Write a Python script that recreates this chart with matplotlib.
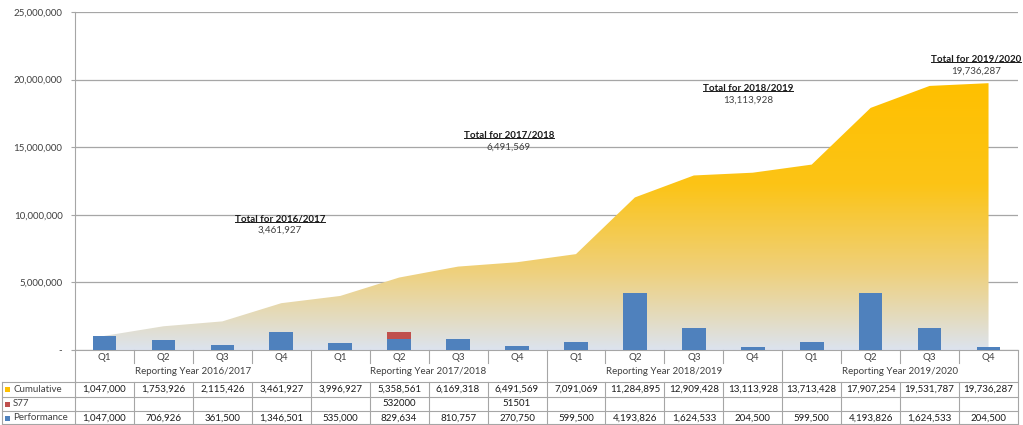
import numpy as np
import matplotlib
matplotlib.use('Agg')
import matplotlib.pyplot as plt
from matplotlib.colors import LinearSegmentedColormap
from matplotlib.patches import Polygon, Rectangle
from matplotlib.lines import Line2D
from matplotlib.transforms import blended_transform_factory
from matplotlib.ticker import FuncFormatter

plt.rcParams['font.family'] = ['Lato', 'DejaVu Sans']

quarters = ['Q1', 'Q2', 'Q3', 'Q4'] * 4
years = ['Reporting Year 2016/2017', 'Reporting Year 2017/2018',
         'Reporting Year 2018/2019', 'Reporting Year 2019/2020']
cumulative = [1047000, 1753926, 2115426, 3461927, 3996927, 5358561, 6169318, 6491569,
              7091069, 11284895, 12909428, 13113928, 13713428, 17907254, 19531787, 19736287]
s77 = [0, 0, 0, 0, 0, 532000, 0, 51501, 0, 0, 0, 0, 0, 0, 0, 0]
s77_text = ['', '', '', '', '', '532000', '', '51501', '', '', '', '', '', '', '', '']
performance = [1047000, 706926, 361500, 1346501, 535000, 829634, 810757, 270750,
               599500, 4193826, 1624533, 204500, 599500, 4193826, 1624533, 204500]
totals = ['Total for 2016/2017', 'Total for 2017/2018', 'Total for 2018/2019', 'Total for 2019/2020']
total_vals = [3461927, 6491569, 13113928, 19736287]
total_pos = [(2.98, 9.72e6), (6.86, 15.9e6), (10.92, 19.38e6), (14.79, 21.5e6)]

blue = '#4F81BD'
red = '#C0504D'
gold = '#FFC000'
grid_c = '#A6A6A6'
txt_c = '#404040'

W, H = 1023, 425
fig = plt.figure(figsize=(W / 100, H / 100), dpi=100)
ax = fig.add_axes([75 / W, 1 - 350 / H, 943 / W, 338 / H])

x = np.arange(len(quarters))

# gradient area for cumulative
cmap = LinearSegmentedColormap.from_list('cum', [(0, '#DCE3EE'), (0.3, '#EFD07A'),
                                                 (0.62, '#FCC416'), (1, gold)])
grad = np.linspace(0, 1, 256).reshape(-1, 1)
im = ax.imshow(grad, extent=[0, len(x) - 1, 0, max(cumulative)], origin='lower',
               aspect='auto', cmap=cmap, zorder=1)
verts = [(0, 0)] + list(zip(x, cumulative)) + [(x[-1], 0)]
poly = Polygon(verts, closed=True, facecolor='none', edgecolor='none')
ax.add_patch(poly)
im.set_clip_path(poly)
ax.set_xlim(-0.5, len(quarters) - 0.5)
ax.set_ylim(0, 25e6)

# bars
ax.bar(x, performance, width=0.4, color=blue, zorder=3)
ax.bar(x, s77, width=0.4, bottom=performance, color=red, zorder=3)

ax.yaxis.set_major_locator(plt.MultipleLocator(5e6))
ax.yaxis.set_major_formatter(FuncFormatter(lambda v, p: '-' if v == 0 else f'{v:,.0f}'))
ax.grid(axis='y', color=grid_c, linewidth=0.9, zorder=0)
ax.set_axisbelow(True)
ax.tick_params(axis='y', labelsize=7, colors=txt_c, length=3, color=grid_c, pad=6)
ax.tick_params(axis='x', bottom=False, labelbottom=False)
for s in ['top', 'right']:
    ax.spines[s].set_visible(False)
ax.spines['left'].set_color(grid_c)
ax.spines['bottom'].set_color(grid_c)

# totals annotations
for (tx, ty), t, v in zip(total_pos, totals, total_vals):
    ax.text(tx, ty, t, ha='center', va='center', fontsize=7, fontweight='bold',
            color='#1a1a1a', zorder=5)
    ax.text(tx, ty - 0.88e6, f'{v:,}', ha='center', va='center', fontsize=7,
            color=txt_c, zorder=5)

# data table
tr = blended_transform_factory(ax.transData, fig.transFigure)
ftr = fig.transFigure
fy = lambda p: 1 - p / H
xl, xr = -0.5, len(x) - 0.5
lw = 0.8

def hline(y, x0, x1, trans=tr):
    fig.add_artist(Line2D([x0, x1], [fy(y), fy(y)], transform=trans, color=grid_c, lw=lw))

def vline(xx, y0, y1, trans=tr):
    fig.add_artist(Line2D([xx, xx], [fy(y0), fy(y1)], transform=trans, color=grid_c, lw=lw))

rows_y = [382, 397, 411, 424]
for yy in rows_y:
    fig.add_artist(Line2D([2 / W, 76 / W], [fy(yy), fy(yy)], transform=ftr, color=grid_c, lw=lw))
    hline(yy, xl, xr)
vline(2 / W, 382, 424, trans=ftr)
for i in range(len(x) + 1):
    b = i - 0.5
    if i % 4 == 0:
        vline(b, 350, 424)
    else:
        vline(b, 350, 363)
        vline(b, 382, 424)

for i, q in enumerate(quarters):
    fig.text(i, fy(357), q, transform=tr, ha='center', va='center', fontsize=7, color=txt_c)
    fig.text(i, fy(389.5), f'{cumulative[i]:,}', transform=tr, ha='center', va='center',
             fontsize=7, color='#1a1a1a')
    fig.text(i, fy(404), s77_text[i], transform=tr, ha='center', va='center',
             fontsize=7, color='#1a1a1a')
    fig.text(i, fy(418), f'{performance[i]:,}', transform=tr, ha='center', va='center',
             fontsize=7, color='#1a1a1a')
for j, yname in enumerate(years):
    fig.text(j * 4 + 1.5, fy(372), yname, transform=tr, ha='center', va='center',
             fontsize=7, color=txt_c)

for yy, name, c in [(389.5, 'Cumulative', gold), (404, 'S77', red), (418, 'Performance', blue)]:
    fig.add_artist(Rectangle((5 / W, fy(yy) - 2.5 / H), 5 / W, 5 / H, transform=ftr,
                             facecolor=c, edgecolor='none'))
    fig.text(13 / W, fy(yy), name, ha='left', va='center', fontsize=7, color=txt_c)

# underline the total titles
fig.canvas.draw()
rend = fig.canvas.get_renderer()
for t in ax.texts:
    if t.get_text().startswith('Total'):
        bb = t.get_window_extent(rend)
        fig.add_artist(Line2D([bb.x0 / W, bb.x1 / W], [(bb.y0 + 1.5) / H] * 2,
                              transform=ftr, color='#1a1a1a', lw=0.7))

fig.savefig('out.png', dpi=100)
